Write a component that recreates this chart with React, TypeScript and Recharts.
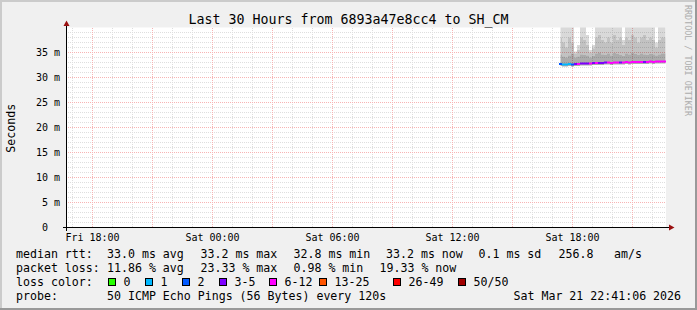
import React from "react";
import { ComposedChart, Area, Scatter, XAxis, YAxis, CartesianGrid } from "recharts";

// time axis in hours since Fri 00:00
const startHour = 16.675;
const endHour = 46.675;
const tickHours = [18, 24, 30, 36, 42];
const tickLabels = ["Fri 18:00", "Sat 00:00", "Sat 06:00", "Sat 12:00", "Sat 18:00"];
const yTicks = [0, 5, 10, 15, 20, 25, 30, 35];
const minorHours = Array.from({ length: 30 }, (_, i) => 17 + i);
const majorHours = [18, 21, 24, 27, 30, 33, 36, 39, 42, 45];
const minorMs = Array.from({ length: 39 }, (_, i) => i + 1);
const majorMs = [5, 10, 15, 20, 25, 30, 35];

// smoke samples, one every 9 minutes from Sat 17:24
const sampleStart = 41.4;
const sampleStep = 0.15;
const pingMin = [32.3, 32.2, 32.2, 32.3, 32.2, 32.3, 32.3, 32.4, 32.4, 32.4, 32.4, 32.5, 32.5, 32.5, 32.5, 32.6, 32.6, 32.5, 32.6, 32.6, 32.6, 32.6, 32.7, 32.6, 32.7, 32.7, 32.7, 32.7, 32.7, 32.7, 32.8, 32.7, 32.8, 32.8, 32.8, 32.8];
const pingMedian = [32.7, 32.6, 32.6, 32.7, 32.6, 32.7, 32.7, 32.8, 32.8, 32.8, 32.8, 32.9, 32.9, 32.9, 32.9, 33.0, 33.0, 32.9, 33.0, 33.0, 33.0, 33.0, 33.1, 33.0, 33.1, 33.1, 33.1, 33.1, 33.1, 33.1, 33.2, 33.1, 33.2, 33.2, 33.2, 33.2];
const pingQ3 = [34.6, 34.2, 34.0, 34.4, 34.8, 34.0, 34.2, 34.6, 34.5, 34.4, 34.0, 34.3, 34.8, 35.0, 34.6, 34.5, 34.8, 34.4, 34.9, 34.7, 34.5, 34.3, 34.8, 34.6, 35.0, 34.7, 34.5, 34.8, 34.6, 34.5, 34.7, 34.6, 34.4, 34.6, 34.8, 34.8];
const pingP90 = [38, 37, 36, 38, 37, 34.8, 35.5, 38, 37.5, 36.5, 35, 35.8, 38, 38.5, 37.5, 37, 38, 37, 38.5, 37.5, 38, 36.5, 38, 37.5, 38.5, 38, 37, 38, 38.5, 37.5, 38, 37.5, 36, 37.5, 38, 38];
const pingMax = [48, 48, 41, 48, 48, 35.2, 36.5, 48, 48, 38.5, 35.5, 36.5, 48, 48, 48, 46, 48, 42, 48, 48, 48, 37.5, 48, 48, 48, 48, 48, 48, 48, 48, 48, 48, 37, 44, 48, 48];
const lossClass = [2, 1, 1, 1, 2, 3, 4, 3, 3, 3, 4, 3, 4, 3, 3, 3, 4, 4, 4, 4, 3, 4, 4, 4, 4, 4, 4, 4, 3, 4, 4, 4, 4, 4, 4, 4];

const lossLabels = ["0", "1", "2", "3-5", "6-12", "13-25", "26-49", "50/50"];
const lossColors = ["#26ff00", "#00b8ff", "#0059ff", "#7e00ff", "#ff00ff", "#ff5500", "#ff0000", "#a10000"];

const rttStats = ["33.0 ms avg", "33.2 ms max", "32.8 ms min", "33.2 ms now", "0.1 ms sd", "256.8", "am/s"];
const lossStats = ["11.86 % avg", "23.33 % max", "0.98 % min", "19.33 % now"];

const rttX = [107, 200.5, 293.5, 386, 478.5, 558.5, 614];
const lossX = [107, 200.5, 293.5, 379.5];
const boxX = [108.5, 145.5, 182.5, 219.5, 269.5, 319.5, 393.5, 458.5];

const data = pingMedian.map((med, i) => ({
  t: sampleStart + i * sampleStep,
  base: pingMin[i],
  dark: pingQ3[i] - pingMin[i],
  mid: pingP90[i] - pingQ3[i],
  light: pingMax[i] - pingP90[i],
  med,
  loss: lossClass[i],
}));

const mono = "DejaVu Sans Mono";

const YTick = (props: any) => {
  const v = props.payload.value;
  return (
    <text x={props.x} y={props.y} dy="0.36em" textAnchor="end" fontFamily={mono} fontSize={10} fill="#000">
      {v === 0 ? "0\u00a0\u00a0" : `${v} m`}
    </text>
  );
};

const MedianMark = (p: any) => (
  <rect x={p.cx - 1.5} y={p.cy - 1} width={3} height={2} fill={lossColors[p.payload.loss]} />
);

export default function App() {
  return (
    <div style={{ position: "absolute", left: 0, top: 0, width: 697, height: 310, background: "#f0f0f0" }}>
      <ComposedChart width={697} height={310} data={data} margin={{ top: 27.5, right: 31, left: 0, bottom: 62.5 }}>
        <CartesianGrid fill="#ffffff" horizontal={false} vertical={false} />
        <CartesianGrid
          stroke="#dedede"
          strokeDasharray="1 1"
          horizontalValues={minorMs}
          verticalValues={minorHours}
          shapeRendering="crispEdges"
        />
        <CartesianGrid
          stroke="#f7b4b4"
          strokeDasharray="1 1"
          horizontalValues={majorMs}
          verticalValues={majorHours}
          shapeRendering="crispEdges"
        />
        <XAxis
          dataKey="t"
          type="number"
          domain={[startHour, endHour]}
          allowDataOverflow
          ticks={tickHours}
          tickFormatter={(v: number) => tickLabels[tickHours.indexOf(v)]}
          tick={{ fontFamily: mono, fontSize: 10, fill: "#000" }}
          tickLine={false}
          axisLine={false}
          tickSize={0}
          tickMargin={6}
          height={20}
          interval={0}
        />
        <YAxis
          type="number"
          domain={[0, 40]}
          allowDataOverflow
          ticks={yTicks}
          tick={<YTick />}
          tickLine={false}
          axisLine={false}
          tickSize={0}
          tickMargin={6}
          width={66}
          interval={0}
        />
        <Area type="step" dataKey="base" stackId="s" stroke="none" fill="none" isAnimationActive={false} />
        <Area type="step" dataKey="dark" stackId="s" stroke="none" fill="#000" fillOpacity={0.33} isAnimationActive={false} />
        <Area type="step" dataKey="mid" stackId="s" stroke="none" fill="#000" fillOpacity={0.24} isAnimationActive={false} />
        <Area type="step" dataKey="light" stackId="s" stroke="none" fill="#000" fillOpacity={0.15} isAnimationActive={false} />
        <Scatter dataKey="med" shape={MedianMark} isAnimationActive={false} />
      </ComposedChart>

      <svg width={697} height={310} style={{ position: "absolute", left: 0, top: 0, pointerEvents: "none" }}>
        {/* frame */}
        <rect x={0} y={0} width={697} height={2} fill="#cbcbcb" />
        <rect x={0} y={0} width={2} height={310} fill="#cbcbcb" />
        <rect x={0} y={308} width={697} height={2} fill="#999999" />
        <rect x={695} y={0} width={2} height={310} fill="#999999" />

        {/* axes */}
        <line x1={63} y1={227.5} x2={670} y2={227.5} stroke="#000" />
        <line x1={66.5} y1={231} x2={66.5} y2={25} stroke="#000" />
        <polygon points="63.5,26 69.5,26 66.5,20.5" fill="#9a1010" />
        <polygon points="669,224.5 669,230.5 674.5,227.5" fill="#9a1010" />

        <text x={348.5} y={24} textAnchor="middle" fontFamily={mono} fontSize={13.3} fill="#000">
          Last 30 Hours from 6893a47e8cc4 to SH_CM
        </text>
        <text transform="translate(14.5,128.3) rotate(-90)" textAnchor="middle" fontFamily={mono} fontSize={11.6} fill="#000">
          Seconds
        </text>
        <text transform="translate(684.5,5) rotate(90)" fontFamily={mono} fontSize={8.4} fill="#acacac">
          RRDTOOL / TOBI OETIKER
        </text>

        <g fontFamily={mono} fontSize={11.6} fill="#000">
          <text x={16} y={257.5}>median rtt:</text>
          {rttStats.map((s, i) => (
            <text key={s + i} x={rttX[i]} y={257.5}>{s}</text>
          ))}
          <text x={16} y={271.5}>packet loss:</text>
          {lossStats.map((s, i) => (
            <text key={s + i} x={lossX[i]} y={271.5}>{s}</text>
          ))}
          <text x={16} y={285.5}>loss color:</text>
          {lossLabels.map((s, i) => (
            <g key={s}>
              <rect x={boxX[i]} y={278.5} width={7} height={7} fill={lossColors[i]} stroke="#000" strokeWidth={1} />
              <text x={boxX[i] + 15} y={285.5}>{s}</text>
            </g>
          ))}
          <text x={16} y={299.5}>probe:</text>
          <text x={107} y={299.5}>50 ICMP Echo Pings (56 Bytes) every 120s</text>
          <text x={513.5} y={299.5}>Sat Mar 21 22:41:06 2026</text>
        </g>
      </svg>
    </div>
  );
}
